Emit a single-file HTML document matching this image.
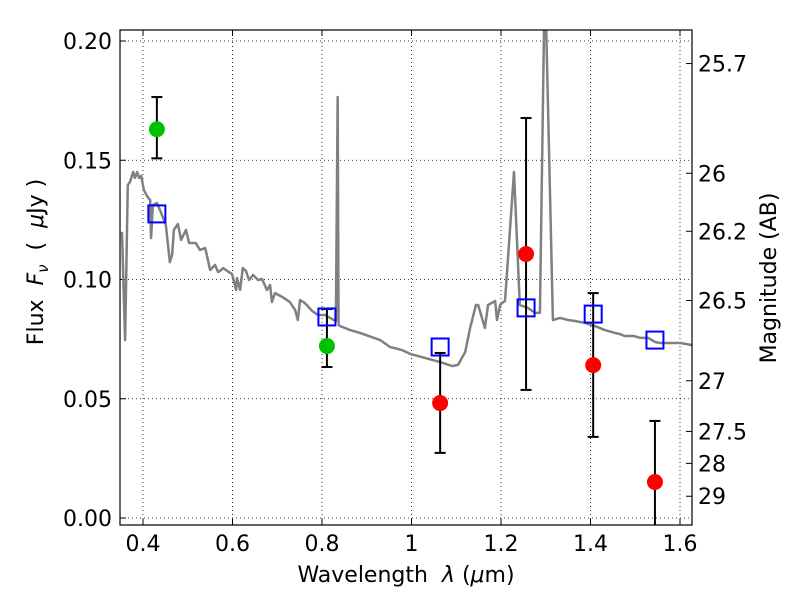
<!DOCTYPE html>
<html><head><meta charset="utf-8"><style>
body{margin:0;background:#fff;}
svg{display:block;font-family:"DejaVu Sans","Liberation Sans",sans-serif;}
text{white-space:pre;}
</style></head><body>
<svg id="chart" width="800" height="600"></svg>
<script>
const specLam=[0.353,0.360,0.366,0.371,0.378,0.382,0.387,0.391,0.396,0.402,0.409,0.416,0.418,0.422,0.431,0.438,0.451,0.460,0.465,0.469,0.478,0.485,0.496,0.503,0.518,0.527,0.539,0.550,0.561,0.568,0.572,0.579,0.588,0.599,0.608,0.610,0.617,0.623,0.630,0.637,0.646,0.657,0.666,0.677,0.684,0.688,0.695,0.711,0.728,0.740,0.746,0.751,0.762,0.778,0.791,0.807,0.818,0.831,0.835,0.837,0.840,0.863,0.885,0.930,0.952,0.979,0.997,1.030,1.064,1.091,1.104,1.120,1.131,1.144,1.149,1.164,1.171,1.187,1.191,1.198,1.202,1.209,1.229,1.242,1.260,1.276,1.287,1.298,1.316,1.332,1.350,1.365,1.388,1.410,1.432,1.455,1.466,1.477,1.497,1.511,1.529,1.544,1.555,1.578,1.600,1.627];
const specFlux=[0.120,0.0746,0.1396,0.1409,0.1451,0.1426,0.1451,0.1426,0.1434,0.1375,0.1350,0.1333,0.1174,0.1312,0.1321,0.1291,0.1229,0.1073,0.1103,0.1208,0.1233,0.1166,0.1208,0.1153,0.1153,0.1124,0.1132,0.1040,0.1061,0.1031,0.1036,0.1048,0.1036,0.1023,0.0956,0.1006,0.0956,0.1048,0.1036,0.0998,0.1019,0.0998,0.1002,0.0956,0.0977,0.0906,0.0943,0.0927,0.0906,0.0872,0.0830,0.0914,0.0901,0.0868,0.0851,0.0851,0.0839,0.0826,0.1765,0.0810,0.0805,0.0788,0.0776,0.0746,0.0717,0.0704,0.0688,0.0671,0.0654,0.0637,0.0642,0.0696,0.0797,0.0893,0.0893,0.0797,0.0893,0.0910,0.0830,0.0893,0.0901,0.0910,0.1451,0.0893,0.0881,0.0860,0.0860,0.230,0.0830,0.0839,0.0830,0.0826,0.0818,0.0805,0.0788,0.0776,0.0771,0.0763,0.0763,0.0755,0.0755,0.0738,0.0734,0.0734,0.0734,0.0725];
const greenLam=[0.431,0.811], greenFlux=[0.163,0.0721], greenHi=[0.1765,0.0876], greenLo=[0.1508,0.0633];
const redLam=[1.064,1.256,1.406,1.544], redFlux=[0.0482,0.1107,0.0641,0.0151], redHi=[0.0692,0.1677,0.0943,0.0407], redLo=[0.0273,0.0537,0.034,-0.01];
const sqLam=[0.431,0.811,1.064,1.256,1.406,1.544], sqFlux=[0.1275,0.0843,0.0717,0.0881,0.0855,0.0746];
const xTicks=[0.4,0.6,0.8,1.0,1.2,1.4,1.6], xTickLabels=["0.4","0.6","0.8","1","1.2","1.4","1.6"];
const yTicks=[0,0.05,0.10,0.15,0.20], yTickLabels=["0.00","0.05","0.10","0.15","0.20"];
const magTicks=[25.7,26,26.2,26.5,27,27.5,28,29], magLabels=["25.7","26","26.2","26.5","27","27.5","28","29"];

const L=120,R=692,T=30,B=525;
const X=v=>143+(v-0.4)*447.5;
const Y=v=>518-v*2385;
const svg=document.getElementById('chart');
const NS='http://www.w3.org/2000/svg';
function mk(tag,attrs,parent){const e=document.createElementNS(NS,tag);for(const k in attrs)e.setAttribute(k,attrs[k]);(parent||svg).appendChild(e);return e;}
const defs=mk('defs',{});const cp=mk('clipPath',{id:'clip'},defs);mk('rect',{x:L,y:T,width:R-L,height:B-T},cp);

xTicks.forEach((v,i)=>{
  const g=mk('line',{x1:X(v),x2:X(v),y1:T,y2:B,stroke:'#000','stroke-dasharray':'1,3','stroke-width':0.8});
  
  mk('line',{x1:X(v),x2:X(v),y1:B,y2:B-6,stroke:'#000'});mk('line',{x1:X(v),x2:X(v),y1:T,y2:T+6,stroke:'#000'});
  const t=mk('text',{x:X(v),y:B+26,'text-anchor':'middle','font-size':22});t.textContent=xTickLabels[i];
  
});
yTicks.forEach((v,i)=>{
  const g=mk('line',{x1:L,x2:R,y1:Y(v),y2:Y(v),stroke:'#000','stroke-dasharray':'1,3','stroke-width':0.8});
  
  mk('line',{x1:L,x2:L+6,y1:Y(v),y2:Y(v),stroke:'#000'});
  const t=mk('text',{x:L-8,y:Y(v)+8,'text-anchor':'end','font-size':22});t.textContent=yTickLabels[i];
  
});
magTicks.forEach((m,i)=>{
  const y=Y(Math.pow(10,(23.9-m)/2.5));
  mk('line',{x1:R,x2:R-6,y1:y,y2:y,stroke:'#000'});
  const t=mk('text',{x:R+6,y:y+8,'font-size':22});t.textContent=magLabels[i];
  
});

const g=mk('g',{'clip-path':'url(#clip)'});
const spec=mk('polyline',{points:specLam.map((l,i)=>X(l)+','+Y(specFlux[i])).join(' '),fill:'none',stroke:'#808080','stroke-width':2.5,'stroke-linejoin':'round'},g);


function err(lams,lo,hi){lams.forEach((l,i)=>{
  const e=mk('line',{x1:X(l),x2:X(l),y1:Y(hi[i]),y2:Y(lo[i]),stroke:'#000','stroke-width':2},g);
  
  mk('line',{x1:X(l)-5.5,x2:X(l)+5.5,y1:Y(hi[i]),y2:Y(hi[i]),stroke:'#000','stroke-width':2},g);
  mk('line',{x1:X(l)-5.5,x2:X(l)+5.5,y1:Y(lo[i]),y2:Y(lo[i]),stroke:'#000','stroke-width':2},g);
});}
err(greenLam,greenLo,greenHi);err(redLam,redLo,redHi);
sqLam.forEach((l,i)=>{
  const s=mk('rect',{x:X(l)-8.5,y:Y(sqFlux[i])-8.5,width:17,height:17,fill:'none',stroke:'#0000ff','stroke-width':2},g);
  
});
greenLam.forEach((l,i)=>{
  const c=mk('circle',{cx:X(l),cy:Y(greenFlux[i]),r:8,fill:'#00c000'},g);
  
});
redLam.forEach((l,i)=>{
  const c=mk('circle',{cx:X(l),cy:Y(redFlux[i]),r:8,fill:'#ff0000'},g);
  
});
const frame=mk('rect',{x:L,y:T,width:R-L,height:B-T,fill:'none',stroke:'#000','stroke-width':1.2});


const xl=mk('text',{x:406,y:582,'text-anchor':'middle','font-size':22});
xl.innerHTML='Wavelength  <tspan font-style="italic">λ</tspan> (<tspan font-style="italic">μ</tspan>m)';

const yl=mk('text',{x:0,y:0,'text-anchor':'middle','font-size':22,transform:'translate(43,262) rotate(-90)'});
yl.innerHTML='Flux  <tspan font-style="italic">F</tspan><tspan font-style="italic" font-size="15" dy="5">ν</tspan><tspan dy="-5">  (  </tspan><tspan font-style="italic">μ</tspan>Jy )';

const rl=mk('text',{x:0,y:0,'text-anchor':'middle','font-size':22,transform:'translate(776,278) rotate(-90)'});
rl.textContent='Magnitude (AB)';

</script>
</body></html>
